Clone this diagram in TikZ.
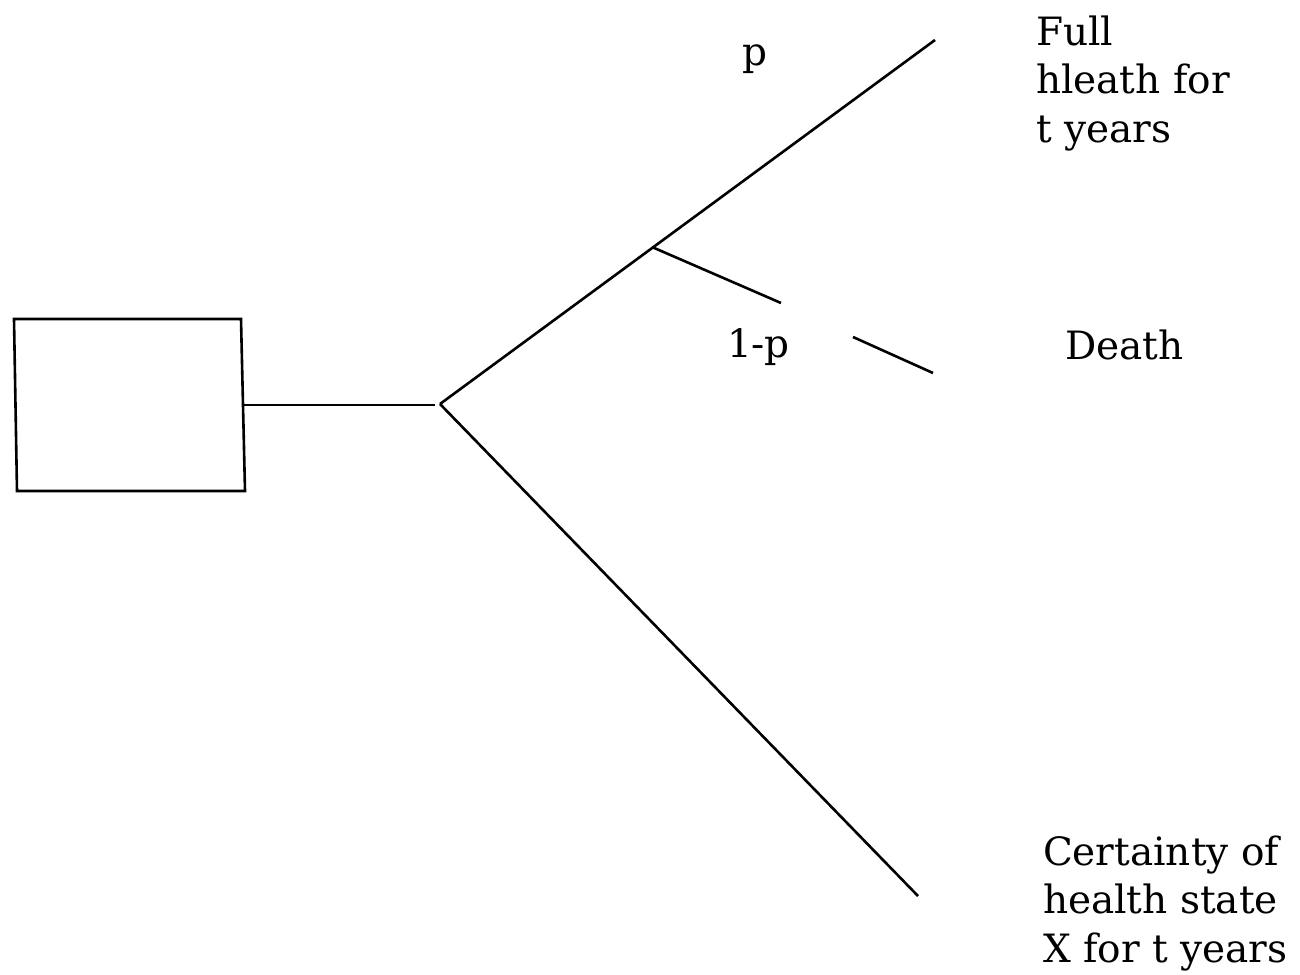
\documentclass[tikz,border=0pt]{standalone}
\usepackage{fontspec}
\setmainfont{DejaVu Serif}
\begin{document}
\begin{tikzpicture}[x=1pt,y=-1pt,
  branch/.style={line width=2.6pt},
  lbl/.style={inner sep=0pt,outer sep=0pt,font=\fontsize{39}{48.5}\selectfont,align=left,anchor=base west}]
\useasboundingbox (0,0) rectangle (1300,974);
% decision box
\draw[branch] (14,319) -- (241,319) -- (245,491) -- (17,491) -- cycle;
\coordinate (boxR) at (243,405);
\coordinate (junc) at (440,404);
\coordinate (junL) at (435,405);
\coordinate (upEnd) at (935,40);
\coordinate (lowEnd) at (918,896);
\coordinate (chance) at (652,247);
\coordinate (gapA) at (781,303);
\coordinate (gapB) at (853,337);
\coordinate (deathEnd) at (933,373);
\draw[branch] (boxR) -- (junL);
\draw[branch] (junc) -- (upEnd);
\draw[branch] (junc) -- (lowEnd);
\draw[branch] (chance) -- (gapA);
\draw[branch] (gapB) -- (deathEnd);
% labels
\node[lbl] (p) at (742,65) {p};
\node[lbl] (q) at (727,357) {1-p};
\node[lbl] (full) at (1036,142) {Full\\hleath for\\t years};
\node[lbl] (death) at (1065,359) {Death};
\node[lbl] (cert) at (1043,962) {Certainty of\\health state\\X for t years};
\end{tikzpicture}
\end{document}
